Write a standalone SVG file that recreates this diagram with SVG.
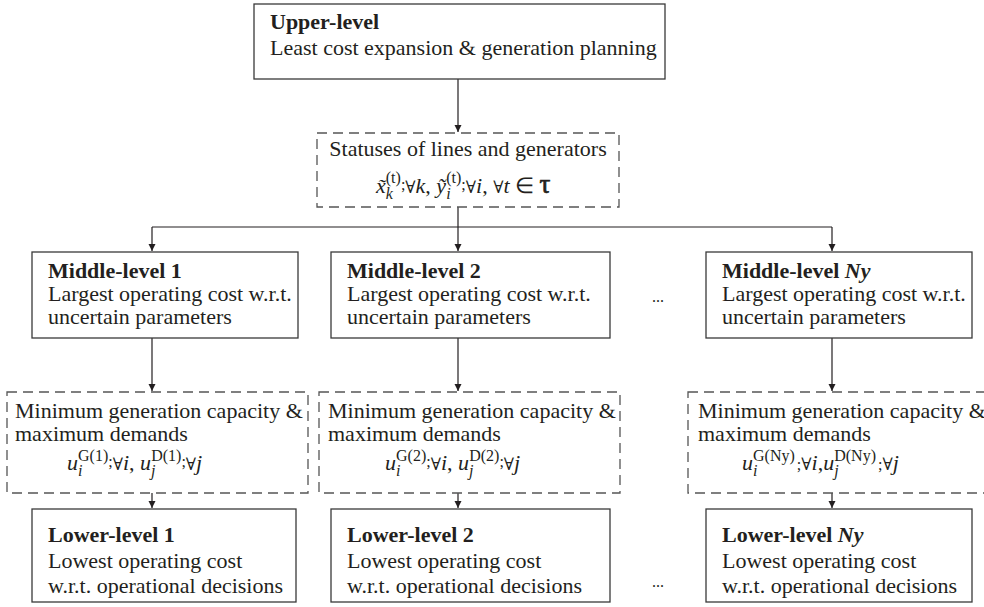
<svg xmlns="http://www.w3.org/2000/svg" width="984" height="607" viewBox="0 0 984 607">
<defs>
<style>
.t{font-family:"Liberation Serif","Times New Roman",serif;font-size:22px;fill:#231f20}
.b{font-weight:bold}
.i{font-style:italic}
.s{font-size:16px}
.f{font-family:"DejaVu Serif",serif;font-size:17px}
.tau{font-size:27px;stroke:#231f20;stroke-width:0.7}
.box{fill:#fff;stroke:#3a3a3a;stroke-width:1.3}
.dash{fill:none;stroke:#555;stroke-width:1.3;stroke-dasharray:10 6}
.con{fill:none;stroke:#231f20;stroke-width:1.2}
.arr{marker-end:url(#ah)}
</style>
<marker id="ah" markerUnits="userSpaceOnUse" markerWidth="8" markerHeight="8" refX="7" refY="3.5" orient="auto">
<path d="M0,0 L7,3.5 L0,7 z" fill="#231f20"/>
</marker>
</defs>
<rect width="984" height="607" fill="#fff"/>

<g id="connectors">
<path class="con arr" d="M458,79 V132"/>
<path class="con arr" d="M458,207 V251"/>
<path class="con" d="M152,227 H832"/>
<path class="con arr" d="M152,227 V251"/>
<path class="con arr" d="M832,227 V251"/>
<path class="con arr" d="M152,338 V391"/>
<path class="con arr" d="M458,338 V391"/>
<path class="con arr" d="M832,338 V391"/>
<path class="con arr" d="M152,493 V508"/>
<path class="con arr" d="M458,493 V508"/>
<path class="con arr" d="M832,493 V508"/>
</g>

<g id="upper">
<rect class="box" x="254" y="4" width="411" height="75"/>
<text class="t b" x="270" y="29">Upper-level</text>
<text class="t" x="270" y="55">Least cost expansion &amp; generation planning</text>
</g>

<g id="statuses">
<rect class="dash" x="317" y="133" width="302" height="74"/>
<text class="t" x="468" y="156" text-anchor="middle">Statuses of lines and generators</text>
<text class="t"><tspan x="376" y="193" class="i">x̃</tspan><tspan class="s i" dy="6">k</tspan><tspan class="s" dx="-7.1" dy="-16">(t)</tspan><tspan class="s" dy="7">;</tspan><tspan class="f" dy="3">∀</tspan><tspan class="i">k</tspan><tspan>, </tspan><tspan class="i">ỹ</tspan><tspan class="s i" dy="6">i</tspan><tspan class="s" dx="-4.4" dy="-16">(t)</tspan><tspan class="s" dy="7">;</tspan><tspan class="f" dy="3">∀</tspan><tspan class="i">i</tspan><tspan>, </tspan><tspan class="f">∀</tspan><tspan class="i">t</tspan><tspan> ∈ </tspan><tspan class="tau">τ</tspan></text>
</g>

<g id="middle1">
<rect class="box" x="32" y="252" width="266" height="86"/>
<text class="t b" x="48" y="278">Middle-level 1</text>
<text class="t" x="48" y="301">Largest operating cost w.r.t.</text>
<text class="t" x="48" y="324">uncertain parameters</text>
</g>
<g id="middle2">
<rect class="box" x="331" y="252" width="279" height="86"/>
<text class="t b" x="347" y="278">Middle-level 2</text>
<text class="t" x="347" y="301">Largest operating cost w.r.t.</text>
<text class="t" x="347" y="324">uncertain parameters</text>
</g>
<g id="middleNy">
<rect class="box" x="706" y="252" width="266" height="86"/>
<text class="t b" x="722" y="278">Middle-level <tspan class="i">Ny</tspan></text>
<text class="t" x="722" y="301">Largest operating cost w.r.t.</text>
<text class="t" x="722" y="324">uncertain parameters</text>
</g>
<text class="t" x="658" y="302" text-anchor="middle" style="font-size:16px">...</text>

<g id="demand1">
<rect class="dash" x="7" y="392" width="301" height="101"/>
<text class="t" x="15" y="418">Minimum generation capacity &amp;</text>
<text class="t" x="15" y="441">maximum demands</text>
<text class="t"><tspan x="67" y="470" class="i">u</tspan><tspan class="s i" dy="6">i</tspan><tspan class="s" dx="-4.4" dy="-15">G(1)</tspan><tspan class="s" dy="6">;</tspan><tspan class="f" dy="3">∀</tspan><tspan class="i">i</tspan><tspan>, </tspan><tspan class="i">u</tspan><tspan class="s i" dy="6">j</tspan><tspan class="s" dx="-4.4" dy="-15">D(1)</tspan><tspan class="s" dy="6">;</tspan><tspan class="f" dy="3">∀</tspan><tspan class="i">j</tspan></text>
</g>
<g id="demand2">
<rect class="dash" x="319" y="392" width="301" height="101"/>
<text class="t" x="328" y="418">Minimum generation capacity &amp;</text>
<text class="t" x="328" y="441">maximum demands</text>
<text class="t"><tspan x="385" y="470" class="i">u</tspan><tspan class="s i" dy="6">i</tspan><tspan class="s" dx="-4.4" dy="-15">G(2)</tspan><tspan class="s" dy="6">;</tspan><tspan class="f" dy="3">∀</tspan><tspan class="i">i</tspan><tspan>, </tspan><tspan class="i">u</tspan><tspan class="s i" dy="6">j</tspan><tspan class="s" dx="-4.4" dy="-15">D(2)</tspan><tspan class="s" dy="6">;</tspan><tspan class="f" dy="3">∀</tspan><tspan class="i">j</tspan></text>
</g>
<g id="demandNy">
<rect class="dash" x="688" y="392" width="302" height="101"/>
<text class="t" x="698" y="418">Minimum generation capacity &amp;</text>
<text class="t" x="698" y="441">maximum demands</text>
<text class="t"><tspan x="742" y="470" class="i">u</tspan><tspan class="s i" dy="6">i</tspan><tspan class="s" dx="-4.4" dy="-15">G(Ny)</tspan><tspan class="s" dx="2" dy="9">;</tspan><tspan class="f">∀</tspan><tspan class="i">i</tspan><tspan>,</tspan><tspan class="i">u</tspan><tspan class="s i" dy="6">j</tspan><tspan class="s" dx="-4.4" dy="-15">D(Ny)</tspan><tspan class="s" dx="2" dy="9">;</tspan><tspan class="f">∀</tspan><tspan class="i">j</tspan></text>
</g>

<g id="lower1">
<rect class="box" x="32" y="509" width="264" height="93"/>
<text class="t b" x="48" y="542">Lower-level 1</text>
<text class="t" x="48" y="568">Lowest operating cost</text>
<text class="t" x="48" y="593">w.r.t. operational decisions</text>
</g>
<g id="lower2">
<rect class="box" x="331" y="509" width="279" height="93"/>
<text class="t b" x="347" y="542">Lower-level 2</text>
<text class="t" x="347" y="568">Lowest operating cost</text>
<text class="t" x="347" y="593">w.r.t. operational decisions</text>
</g>
<g id="lowerNy">
<rect class="box" x="706" y="509" width="266" height="93"/>
<text class="t b" x="722" y="542">Lower-level <tspan class="i">Ny</tspan></text>
<text class="t" x="722" y="568">Lowest operating cost</text>
<text class="t" x="722" y="593">w.r.t. operational decisions</text>
</g>
<text class="t" x="658" y="587" text-anchor="middle" style="font-size:16px">...</text>
</svg>
